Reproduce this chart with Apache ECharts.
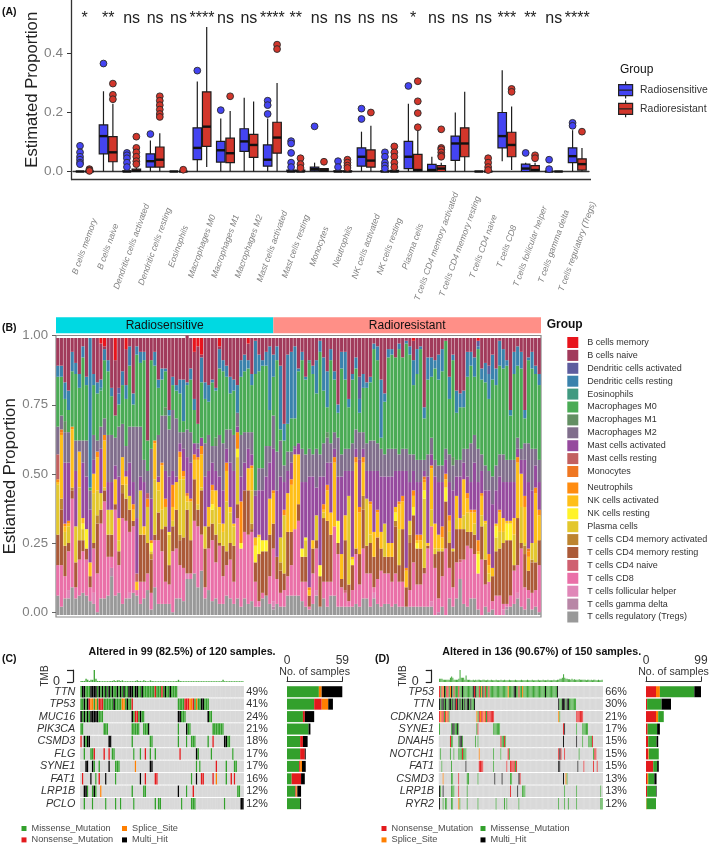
<!DOCTYPE html>
<html><head><meta charset="utf-8"><style>html,body{margin:0;padding:0;background:#fff}#c{width:709px;height:846px}</style>
<script src="https://cdn.jsdelivr.net/npm/echarts@6/dist/echarts.min.js"></script></head><body><div id="c"></div>
<script>
// ---------- Panel A ----------
const cellTypes=['B cells memory','B cells naive','Dendritic cells activated','Dendritic cells resting','Eosinophils','Macrophages M0','Macrophages M1','Macrophages M2','Mast cells activated','Mast cells resting','Monocytes','Neutrophils','NK cells activated','NK cells resting','Plasma cells','T cells CD4 memory activated','T cells CD4 memory resting','T cells CD4 naive','T cells CD8','T cells follicular helper','T cells gamma delta','T cells regulatory (Tregs)'];
const sigLabels=['*','**','ns','ns','ns','****','ns','ns','****','**','ns','ns','ns','ns','*','ns','ns','ns','***','**','ns','****'];
// min, q1, median, q3, max
const boxSensitive=[[0,0,0,0,0],[0,.06,.12,.158,.272],[0,0,0,.002,.004],[0,.015,.035,.06,.105],[0,0,0,0,0],[0,.04,.08,.148,.305],[0,.032,.072,.102,.18],[0,.068,.102,.145,.25],[0,.018,.04,.09,.18],[0,0,0,.005,.008],[0,.002,.008,.015,.03],[0,0,0,.002,.004],[0,.018,.05,.08,.135],[0,0,0,.002,.005],[0,.01,.05,.102,.23],[0,0,.005,.024,.05],[0,.038,.095,.12,.2],[0,0,0,0,0],[.035,.08,.12,.2,.343],[0,0,.01,.025,.03],[0,0,0,0,.002],[0,.03,.052,.08,.14]];
const boxResistant=[[0,0,0,0,.001],[0,.033,.065,.118,.23],[0,0,.002,.008,.012],[0,.015,.04,.083,.13],[0,0,0,0,0],[.015,.085,.152,.27,.49],[0,.03,.062,.113,.205],[0,.048,.09,.126,.237],[0,.062,.115,.167,.3],[0,0,0,.005,.008],[0,0,.004,.01,.012],[0,0,0,.002,.005],[0,.015,.037,.073,.155],[0,0,0,.004,.06],[0,.003,.005,.058,.14],[0,0,.01,.02,.03],[0,.05,.095,.148,.27],[0,0,0,0,.001],[.005,.05,.09,.133,.22],[0,.003,.005,.02,.03],[0,0,0,0,.001],[0,.005,.025,.043,.08]];
const outlierSensitive=[[.087,.065,.05,.04,.03,.025],[.366],[.063,.055,.045,.03,.015],[.127],[],[.342],[.208],[],[.24,.225,.195],[.103,.095,.063,.03,.015],[.153],[.035,.015],[.213,.178],[.065,.05,.03,.02,.01],[.29],[],[],[],[],[.063],[.04,.008],[.165,.155]];
const outlierResistant=[[.008,.004,.002],[.298,.26,.245],[.118,.08,.065,.05,.035,.025],[.255,.24,.225,.21,.195,.185],[.006],[],[.255],[],[.43,.415],[.045,.025,.012],[.033],[.04,.03,.02,.012],[.2],[.085,.065,.05,.03,.015],[.306,.238,.198,.15],[.143,.08,.075,.065,.055,.05],[],[.045,.03,.015,.005],[.28,.27],[.055,.045],[],[.135]];
const groupNames=['Radiosensitive','Radioresistant'];
const sigHeight=.5186;

// ---------- Panel B: top edges (percent) of each layer, read per bar ----------
const tregTop=[7,3,6,6,10,6,7,8,7,5,4,1,6,6,7,14,7,8,4,6,6,8,7,4,6,9,2,10,4,4,4,4,1,6,
6,5,13,13,15,10,16,6,9,5,6,4,4,7,6,4,6,3,6,4,5,3,3,6,7,4,2,4,3,3,7,7,7,7,
5,3,2,4,7,3,6,3,7,7,3,3,3,3,3,4,3,6,6,3,6,4,3,4,4,3,4,3,3,3,3,3,3,3,
3,3,3,0,0,3,0,6,3,6,13,4,3,6,6,2,0,3,1,2,0,0,0,2,3,4,6,3,2,6,2,3,1];
const pinkTop=[18,18,14,23,42,10,20,23,20,10,24,15,33,41,21,21,38,18,35,34,30,32,9,12,12,15,8,27,27,23,12,11,23,24,
18,17,8,15,34,32,29,10,24,27,19,25,14,18,20,12,35,24,30,29,30,12,5,8,7,14,24,13,8,9,14,18,31,34,
12,12,3,15,24,3,12,12,12,32,22,10,9,5,9,22,11,24,15,15,10,13,16,15,15,12,15,12,12,3,9,19,11,11,
15,24,32,17,6,14,24,17,10,19,20,20,25,24,22,15,20,11,12,5,7,7,4,4,7,16,18,24,10,9,8,9,18];
const brownTop=[29,38,25,26,45,19,27,27,24,14,26,33,38,45,29,29,40,23,44,42,38,34,9,29,29,26,20,29,37,31,32,18,32,38,
27,28,36,27,49,38,45,24,32,33,29,26,25,23,26,25,40,24,45,45,31,19,22,23,23,29,33,21,16,15,30,30,31,40,
21,21,7,24,27,14,35,34,29,32,26,13,27,11,18,24,22,38,25,26,21,28,24,21,21,21,32,18,31,10,26,36,24,24,
17,25,32,22,23,23,41,26,23,31,31,31,30,30,29,15,32,20,12,14,23,24,26,27,27,18,35,26,22,16,19,19,27];
const plasmaTop=[47,42,30,32,46,32,46,31,24,14,44,45,44,46,38,38,40,27,47,47,43,34,9,45,29,39,23,49,45,38,39,29,34,38,
49,49,39,41,49,40,46,32,32,38,39,33,30,41,37,32,57,24,45,45,45,19,22,23,23,29,33,21,28,36,30,30,31,40,
21,27,7,24,36,14,37,34,29,32,26,13,27,43,18,24,22,43,42,29,21,28,24,33,21,21,34,31,31,10,34,36,24,24,
42,25,38,24,24,24,41,30,24,35,31,36,37,30,33,15,36,33,15,14,28,30,30,27,27,29,35,39,26,16,26,26,27];
const goldTop=[48,65,32,33,67,32,59,35,31,19,51,57,44,63,38,38,49,35,57,50,43,38,12,45,32,39,26,62,48,54,39,30,39,48,
57,50,41,41,56,56,58,32,39,45,45,39,33,52,39,33,60,26,45,53,53,28,29,27,27,42,44,21,28,36,44,47,58,58,
24,28,9,27,36,18,38,45,37,55,34,22,36,43,21,55,37,55,42,40,30,37,30,33,26,26,39,40,41,16,34,43,27,27,
48,26,53,33,29,28,49,34,24,43,35,49,42,37,37,23,43,34,18,17,33,37,35,34,34,35,55,51,39,21,26,44,36];
const orangeTop=[49,67,33,34,68,32,59,35,31,19,51,59,44,65,38,38,49,35,57,50,43,40,12,45,32,42,27,63,48,55,42,30,47,48,
59,52,42,42,58,57,61,32,39,47,45,39,33,55,39,33,66,41,45,53,54,28,29,27,27,42,45,21,28,38,44,49,58,58,
24,28,10,27,36,18,40,47,37,57,34,22,36,43,21,57,39,57,42,41,30,38,30,33,26,26,39,41,43,17,34,45,29,29,
50,26,54,33,29,32,51,36,24,43,35,49,44,38,38,27,44,34,22,17,33,38,35,34,34,35,57,51,43,24,26,46,38];
const purpleTop=[58,67,55,55,68,52,58,55,50,38,56,59,60,65,48,48,54,50,57,52,55,48,35,50,48,44,42,63,50,55,52,50,52,50,
62,60,55,55,62,60,64,50,52,55,52,50,45,60,55,52,68,50,55,60,58,43,45,45,50,55,60,45,50,48,52,55,60,62,
48,48,50,50,46,50,50,55,55,60,50,50,52,52,52,60,56,60,52,52,52,52,50,50,50,50,52,52,52,52,48,52,48,48,
52,50,58,50,48,48,56,48,45,50,50,55,50,48,55,48,52,45,45,40,45,50,48,48,48,48,60,56,56,48,45,54,48];
const m2Top=[68,72,66,66,64,63,63,63,63,45,65,63,68,71,65,65,64,68,69,61,68,68,68,68,56,52,60,63,65,72,72,67,74,71,
66,66,65,66,62,62,63,62,65,61,61,65,62,67,67,65,73,65,66,66,66,45,53,53,61,61,72,59,63,54,59,59,61,62,
60,58,60,58,60,58,62,64,62,66,64,58,60,60,62,67,66,66,62,63,63,62,60,58,60,60,60,58,60,60,58,58,56,56,
56,58,64,56,54,54,60,58,54,56,56,60,60,62,65,60,58,54,52,50,54,58,58,56,56,56,64,60,62,62,60,60,56];
const m0Top=[86,86,78,74,88,87,82,93,83,46,83,80,82,92,88,79,72,76,83,78,90,76,94,91,92,63,92,90,82,85,88,72,83,81,
80,70,81,85,74,69,84,78,77,84,81,89,88,86,80,81,73,86,88,89,83,87,88,90,90,74,86,92,67,63,69,71,71,88,
92,85,92,87,80,95,81,75,92,85,73,89,85,75,85,89,73,82,82,84,96,92,64,77,93,94,93,96,93,98,94,83,87,96,
71,85,86,89,85,88,99,78,92,73,75,75,86,90,86,96,85,84,78,85,83,90,89,90,72,87,90,89,71,92,89,87,83];
const dcRestTop=[90,90,84,81,95,91,87,97,86,100,87,84,85,96,92,82,72,82,88,83,97,80,97,95,95,63,92,95,85,89,89,74,86,83,
85,85,82,89,78,69,93,84,83,85,82,96,92,90,86,85,83,92,94,92,87,99,94,92,95,97,94,97,90,69,94,95,97,89,
95,86,92,90,92,99,93,88,96,88,76,95,95,78,87,93,86,87,84,86,98,97,85,80,96,96,93,98,93,99,97,92,96,97,
75,93,93,92,94,96,99,86,94,81,80,81,95,95,93,99,89,91,90,94,89,99,96,92,74,95,97,95,74,93,95,90,87];
// small layers, [bar, percent]
const memoryBars=[[12,2],[13,3],[16,8],[19,4],[38,5],[39,3],[40,6],[45,3],[53,2],[99,1],[117,1]];
const nkRestBars=[[5,3],[7,2],[8,7],[26,3],[31,1],[43,2],[50,3],[51,2],[55,6],[56,6],[57,4],[58,4],[68,3],[69,3],[73,4],[78,8],[82,2],[94,3],[99,3],[100,2],[102,3],[108,5],[117,7],[122,4],[125,6],[126,6]];
const cd4ActBars=[[1,4],[4,2],[11,3],[18,3],[26,2],[34,2],[54,2],[62,3],[85,5],[92,2],[94,2],[98,3],[130,3],[132,1]];
const tfhBars=[[3,3],[10,4],[20,2],[36,2],[60,2],[72,2],[88,2],[104,2],[124,2],[128,2]];
const gammaBars=[[15,3],[60,1],[106,1],[125,1]];
const mastRestBars=[[0,9],[22,3],[25,3]];
const monoBars=[[1,1],[36,1],[102,1],[131,1]];
const cd4NaiveBars=[[80,1],[112,1]];
const m1Bars=[[2,4],[30,3],[44,3],[75,2],[110,3]];
const dcActBars=[[17,2],[39,1],[84,8],[117,2],[120,3]];
const eosBars=[[12,1],[70,1]];
const sampleCount=135;
const groupSpan=[60.5,74.5];
const layerColors={'B cells memory':'#e8141c','B cells naive':'#a13a5b','Dendritic cells activated':'#5d5d9e','Dendritic cells resting':'#3a82ac','Eosinophils':'#409a80','Macrophages M0':'#4aab55','Macrophages M1':'#638f63','Macrophages M2':'#806e8c','Mast cells activated':'#964a9e','Mast cells resting':'#c26060','Monocytes':'#ef7722','Neutrophils':'#ff8c10','NK cells activated':'#ffbf18','NK cells resting':'#fff32a','Plasma cells':'#e3c72d','T cells CD4 memory activated':'#bd8430','T cells CD4 memory resting':'#ab5a38','T cells CD4 naive':'#cf6070','T cells CD8':'#ea70a8','T cells follicular helper':'#e087b8','T cells gamma delta':'#b886a6','T cells regulatory (Tregs)':'#999999'};

// ---------- Panels C, D ----------
const mutTypes={M:'Missense_Mutation',N:'Nonsense_Mutation',S:'Splice_Site',H:'Multi_Hit'};
const mutColors={M:'#33a02c',N:'#e31a1c',S:'#ff7f00',H:'#000000','.':'#d9d9d9'};
const genesC=['TTN','TP53','MUC16','PIK3CA','CSMD3','FLG','SYNE1','FAT1','LRP1B','PCLO'];
const pctC=['49%','41%','24%','21%','18%','17%','17%','16%','12%','12%'];
const runsC=[
[[0,'MHHMMMHHHHMHMHMHMHMHMMHMHMHMMHHHMHHMMHMMMMMMMNMMMNMHMMHMMMM']],
[[0,'MMHMHNSSMSMNNNMMMMMMHMMMMSSMHMMN'],[59,'MMMMNNNSSNMSMMHHMMM']],
[[0,'HMHMHMHHHHHMMM'],[31,'HMNNMHMM'],[59,'HHMMM'],[77,'HMM']],
[[0,'MM'],[14,'MMM'],[31,'MMMMM'],[38,'MMMH'],[59,'M'],[64,'HMM'],[80,'MMMMMMM']],
[[0,'N'],[2,'HMHH'],[17,'HH'],[31,'M'],[42,'MM'],[59,'M'],[64,'M'],[67,'MMM'],[77,'M'],[80,'N'],[87,'HHMM']],
[[2,'M'],[6,'MMN'],[14,'N'],[17,'N'],[19,'MM'],[32,'M'],[36,'M'],[39,'N'],[42,'M'],[45,'M'],[60,'N'],[70,'HM'],[79,'M'],[92,'M']],
[[3,'HH'],[7,'HM'],[11,'M'],[17,'H'],[21,'MMM'],[33,'S'],[42,'HH'],[70,'M'],[72,'M'],[82,'N'],[88,'M'],[93,'MM']],
[[1,'N'],[6,'H'],[9,'M'],[11,'N'],[15,'H'],[21,'M'],[36,'H'],[39,'N'],[45,'NN'],[67,'M'],[70,'H'],[73,'NN'],[80,'N'],[82,'S'],[88,'M'],[91,'N'],[93,'N']],
[[2,'HHM'],[7,'MHM'],[12,'S'],[31,'M'],[38,'MM'],[59,'H'],[64,'M'],[68,'N'],[95,'MM']],
[[2,'M'],[7,'M'],[15,'M'],[21,'M'],[24,'M'],[32,'M'],[45,'M'],[47,'MM'],[61,'M'],[67,'MMM'],[87,'M'],[97,'HH']]];
const barsC={M:[34,29,17,23,14,14,13,5,9,14],N:[0,8,2,0,3,5,1,10,1,0],S:[3,7,0,0,0,0,2,0,1,0],H:[22,5,10,2,5,1,4,4,4,1]};
const tmbC=[1,1,1,3,2,1,2,2,11,3,1,1,.7,.7,.7,.7,.7,.7,1,1,1.5,1,1.5,1.5,1,1.5,.7,.7,.7,.7,.7,.7,.7,1,1.5,1,1,.7,1.5,1,.7,.7,1.5,1,.7,.7,.7,.7,.7,.7,.7,.7,.7,.7,.7,.7,.7,.7,1,2,1,.7,.7,.7,.7,.7,.7,.7,.7,.7,.7,.7,.7,.7,.7,.7,.7,.7,.7,.7,.7,.7,.7,.7,.7,.7,2,.7,.7,.7,.7,.7,.7,.7,.7,.7,.7,.7,.7];
const genesD=['TP53','TTN','CDKN2A','SYNE1','DNAH5','NOTCH1','FAT1','CSMD3','LRP1B','RYR2'];
const pctD=['66%','30%','21%','17%','15%','15%','15%','13%','13%','12%'];
const runsD=[
[[0,'NMNSHMNNMSHMNMMMNMMHMMMMMMMMHNHMMNMSHMNMMNMMMMMMMMMMMMMMMSMMMMHHMMNMMSMMMMMMMMMMMMMMMMMMHMMMMMMMMMH']],
[[0,'HMHHMHMMHHMHMHNHMHMHMHMHHMHMMH'],[99,'HMMHHHMHHMMMMMM']],
[[0,'NSNNMNSNM'],[31,'SMNSNNSNMNNNNNN'],[99,'SM'],[114,'NNNNNN']],
[[0,'M'],[10,'MHHMMHM'],[31,'MN'],[45,'MMMMMM'],[103,'NH'],[114,'M'],[119,'MMMMM']],
[[9,'NMM'],[16,'MHHM'],[30,'M'],[32,'M'],[51,'NMMNM'],[103,'H'],[114,'H'],[119,'M'],[124,'MMMN']],
[[1,'M'],[9,'M'],[12,'M'],[16,'MMMNMMM'],[33,'S'],[45,'M'],[51,'M'],[57,'NM'],[99,'NHN'],[104,'N'],[116,'M'],[128,'MNN']],
[[2,'M'],[10,'M'],[22,'H'],[33,'NNNN'],[45,'M'],[56,'N'],[59,'NNNNM'],[64,'N'],[99,'HH'],[115,'H'],[120,'N'],[128,'N'],[131,'N']],
[[3,'S'],[10,'MM'],[16,'N'],[23,'MM'],[32,'M'],[46,'H'],[52,'H'],[59,'MM'],[66,'HN'],[103,'H'],[105,'SM']],
[[0,'HM'],[3,'H'],[10,'MMM'],[16,'N'],[23,'M'],[59,'N'],[65,'H'],[69,'MMM'],[104,'M'],[114,'M'],[134,'M']],
[[0,'H'],[3,'M'],[5,'MM'],[10,'MM'],[16,'SM'],[23,'M'],[32,'M'],[47,'M'],[54,'M'],[56,'M'],[66,'M'],[99,'M'],[104,'M'],[107,'M'],[114,'M'],[134,'MM']]];
const barsD={N:[18,2,18,3,4,4,13,2,2,0],S:[7,0,4,0,0,1,0,2,0,1],M:[62,26,10,17,15,18,7,11,16,17],H:[12,17,0,5,3,0,3,4,1,0]};
const tmbD=[3,3,3,2,2,2,2,2,2,4,5,4,2,2,2,2,3,11,4,4,4,2,6,2,2,2,1.5,1.5,2,1.5,2,1.5,2,2,1.5,1.5,2,2,1.5,1.5,2,1.5,1.5,2,1.5,1.5,1.5,2,1.5,1.5,1.5,2,1.5,1.5,2,1.5,1.5,1.5,2,1.5,1.5,1.5,1.5,2,1.5,1.5,1.5,1.5,2,1.5,1.5,1.5,1.5,2,1.5,1.5,1.5,2,1.5,1.5,1.5,1.5,2,1.5,1.5,1.5,2,1.5,1.5,1.5,2,1.5,1.5,1.5,1.5,2,1.5,1.5,2,2,3,3,4,7,4,3,3,2.5,2.5,2,3,2,2.5,2,2,2,2.5,2,2,2,2,2,1.5,2,2,1.5,2,1.5,2,2,1.5,1.5,2,1.5,1.5,2];

// ---------- assembling ----------
const FONT='"Liberation Sans",Arial,sans-serif';
const BLUE='#4444f2',RED='#d2362b',INK='#222';
const pick=(pairs,i)=>{const p=pairs.find(q=>q[0]===i);return p?p[1]:0;};

// layer heights from read edges
function layerTable(){
 const tops=[tregTop,pinkTop,brownTop,plasmaTop,goldTop,orangeTop,purpleTop,m2Top,m0Top,dcRestTop];
 const t={};Object.keys(layerColors).forEach(k=>t[k]=[]);
 for(let i=0;i<sampleCount;i++){
  let c=0;const h=tops.map(a=>{const v=Math.max(a[i]-c,0);c=Math.max(c,a[i]);return v;});
  const top=Math.max(c,100);
  const mem=pick(memoryBars,i);
  const push=(k,v)=>t[k].push(Math.max(v,0)/top);
  push('T cells regulatory (Tregs)',h[0]-0);
  const gam=pick(gammaBars,i),tfh=pick(tfhBars,i),nai=pick(cd4NaiveBars,i);
  push('T cells gamma delta',gam);push('T cells follicular helper',tfh);
  push('T cells CD8',h[1]-gam-tfh-nai);push('T cells CD4 naive',nai);
  push('T cells CD4 memory resting',h[2]);
  const act=Math.min(pick(cd4ActBars,i),h[3]);
  push('T cells CD4 memory activated',act);push('Plasma cells',h[3]-act);
  const nr=Math.min(pick(nkRestBars,i),h[4]);
  push('NK cells resting',nr);push('NK cells activated',h[4]-nr);
  const mo=Math.min(pick(monoBars,i),h[5]);
  push('Neutrophils',h[5]-mo);push('Monocytes',mo);
  const mr=Math.min(pick(mastRestBars,i),h[6]);
  push('Mast cells resting',mr);push('Mast cells activated',h[6]-mr);
  push('Macrophages M2',h[7]);
  const m1=Math.min(pick(m1Bars,i),h[8]);
  push('Macrophages M1',m1);
  const eo=Math.min(pick(eosBars,i),h[8]-m1);
  push('Macrophages M0',h[8]-m1-eo);push('Eosinophils',eo);
  const da=Math.min(pick(dcActBars,i),h[9]);
  push('Dendritic cells resting',h[9]-da);push('Dendritic cells activated',da);
  push('B cells naive',top-c-mem);push('B cells memory',mem);
 }
 return t;
}
const table=layerTable();
const stackOrder=['T cells regulatory (Tregs)','T cells gamma delta','T cells follicular helper','T cells CD8','T cells CD4 naive','T cells CD4 memory resting','T cells CD4 memory activated','Plasma cells','NK cells resting','NK cells activated','Neutrophils','Monocytes','Mast cells resting','Mast cells activated','Macrophages M2','Macrophages M1','Macrophages M0','Eosinophils','Dendritic cells resting','Dendritic cells activated','B cells naive','B cells memory'];

const boxRender=dx=>(params,api)=>{
 const x=api.value(0);const P=v=>api.coord([x,v]);
 const cx=P(0)[0]+dx,w=8.5;
 const y=[1,2,3,4,5].map(k=>P(api.value(k))[1]);
 const fill=api.visual('color');
 const s={stroke:'#1c1c1c',lineWidth:1.2};
 return {type:'group',children:[
  {type:'line',shape:{x1:cx,y1:y[0],x2:cx,y2:y[4]},style:s},
  {type:'rect',shape:{x:cx-w/2,y:y[3],width:w,height:y[1]-y[3]},style:{fill,stroke:'#1c1c1c',lineWidth:1.2}},
  {type:'line',shape:{x1:cx-w/2,y1:y[2],x2:cx+w/2,y2:y[2]},style:{stroke:'#111',lineWidth:2.4}}
 ]};
};
const outlierRows=a=>a.flatMap((list,i)=>list.map(v=>[i,v]));
const BOX_ICON='path://M7 0V3M7 14V17M0 3H14V14H0ZM0 8.5H14';

function tileRows(runs,n){
 const rows=[];
 runs.forEach((gene,r)=>{
  const line=new Array(n).fill('.');
  gene.forEach(([start,s])=>{for(let k=0;k<s.length;k++)line[start+k]=s[k];});
  line.forEach((ch,c)=>rows.push([c,r,ch]));
 });
 return rows;
}
const tileRender=(rows,frac)=>(params,api)=>{
 const d=rows[params.dataIndex];
 const c=api.coord([d[0],d[1]]),s=api.size([1,1]);
 const mut=d[2]!=='.';
 const w=mut?s[0]*frac:s[0]+.4,h=s[1]*.92;
 return {type:'rect',shape:{x:c[0]-w/2,y:c[1]-h/2,width:w,height:h},style:{fill:mutColors[d[2]]}};
};

const grids=[
 {left:73,width:516,top:0,height:179.5},
 {left:56,width:485,top:317.3,height:16},
 {left:56,width:485,top:335.5,height:281.5,show:true,borderColor:'#8a8a8a',borderWidth:1.2,backgroundColor:'#fff'},
 {left:80.3,width:163.4,top:670,height:12},
 {left:80.3,width:163.4,top:685.5,height:124.4},
 {left:287,width:55.3,top:685.5,height:124.4},
 {left:439,width:163.7,top:670,height:12},
 {left:439,width:163.7,top:685.5,height:124.4},
 {left:646,width:55,top:685.5,height:124.4}
].map(g=>({...g,outerBoundsMode:'none',containLabel:false}));
const idx=n=>Array.from({length:n},(_,i)=>i);
const hidden={show:false};
const sideX=(g,max)=>({gridIndex:g,type:'value',position:'top',min:0,max,interval:max,offset:4,splitLine:hidden,axisLine:{show:true,lineStyle:{color:'#333'}},axisTick:{show:true,length:5,lineStyle:{color:'#333'}},
  axisLabel:{margin:15,fontSize:12,color:'#333',fontFamily:FONT,showMinLabel:true,showMaxLabel:true},
  name:'No. of samples',nameLocation:'middle',nameGap:4,nameMoveOverlap:false,nameTextStyle:{fontSize:10.6,color:'#333',fontFamily:FONT}});
const xAxes=[
 {gridIndex:0,type:'category',data:cellTypes,axisLine:{lineStyle:{color:'#333',width:1.3}},axisTick:{alignWithLabel:true,length:4,lineStyle:{color:'#333',width:1}},
  axisLabel:{interval:0,rotate:70,align:'center',verticalAlign:'middle',margin:67,fontSize:8.6,fontStyle:'italic',color:'#7f7f7f',fontFamily:FONT}},
 {gridIndex:1,type:'value',min:0,max:sampleCount,...hidden},
 {gridIndex:2,type:'category',data:idx(sampleCount),...hidden},
 {gridIndex:3,type:'category',data:idx(99),...hidden},
 {gridIndex:4,type:'category',data:idx(99),...hidden},
 sideX(5,59),
 {gridIndex:6,type:'category',data:idx(136),...hidden},
 {gridIndex:7,type:'category',data:idx(136),...hidden},
 sideX(8,99)
];
const tmbY=(g)=>({gridIndex:g,type:'value',min:0,max:11,offset:7.3,splitLine:hidden,
  axisLine:{show:true,lineStyle:{color:'#222',width:1.2}},
  axisTick:{show:true,length:6,lineStyle:{color:'#222',width:1.2},customValues:[0,11]},
  axisLabel:{show:true,customValues:[0],formatter:'{value}',fontSize:12.5,color:'#333',margin:13,fontFamily:FONT},
  name:'TMB',nameLocation:'middle',nameRotate:90,nameGap:23,nameMoveOverlap:false,nameTextStyle:{fontSize:10,color:'#333',fontFamily:FONT}});
const catY=(g,data,labelled,pos)=>({gridIndex:g,type:'category',data,inverse:true,position:pos||'left',
  axisLine:hidden,axisTick:hidden,
  axisLabel:labelled?{show:true,interval:0,fontSize:10.8,color:'#333',fontFamily:FONT,margin:pos==='right'?2.5:5,fontStyle:pos==='right'?'normal':'italic'}:hidden});
const yAxes=[
 {gridIndex:0,type:'value',min:-8/295,max:171.5/295,offset:2,splitLine:hidden,
  axisLine:{show:true,lineStyle:{color:'#333',width:1.3}},axisTick:{show:true,length:4,lineStyle:{color:'#333'},customValues:[0,.2,.4]},
  axisLabel:{customValues:[0,.2,.4],formatter:v=>v.toFixed(1),fontSize:13.6,color:'#7f7f7f',margin:8,fontFamily:FONT},
  name:'Estimated Proportion',nameLocation:'middle',nameRotate:90,nameGap:30,nameMoveOverlap:false,nameTextStyle:{fontSize:16.7,color:INK,fontFamily:FONT}},
 {gridIndex:1,type:'category',data:['group'],...hidden},
 {gridIndex:2,type:'value',min:-2/277,max:1+2.5/277,...hidden},
 {gridIndex:2,type:'value',min:-4.7/276.6,max:1+.2/276.6,splitLine:hidden,
  axisLine:hidden,axisTick:{show:true,length:4,lineStyle:{color:'#666'},customValues:[0,.25,.5,.75,1]},
  axisLabel:{customValues:[0,.25,.5,.75,1],formatter:v=>v.toFixed(2),fontSize:13.2,color:'#7f7f7f',margin:8,fontFamily:FONT},
  name:'Estiamted Proportion',nameLocation:'middle',nameRotate:90,nameGap:37,nameMoveOverlap:false,position:'left',nameTextStyle:{fontSize:16.7,color:INK,fontFamily:FONT}},
 tmbY(3),
 catY(4,genesC,true),
 catY(4,pctC,true,'right'),
 catY(5,genesC,false),
 tmbY(6),
 catY(7,genesD,true),
 catY(7,pctD,true,'right'),
 catY(8,genesD,false)
];
const series=[];
// A
[[boxSensitive,BLUE,-4.7,outlierSensitive],[boxResistant,RED,4.7,outlierResistant]].forEach(([box,col,dx,out],k)=>{
 series.push({type:'scatter',name:groupNames[k],xAxisIndex:0,yAxisIndex:0,symbolSize:6.8,symbolOffset:[dx,0],z:3,
  itemStyle:{color:col,borderColor:'#2a2a2a',borderWidth:.9,opacity:1},data:outlierRows(out)});
 series.push({type:'custom',name:groupNames[k],xAxisIndex:0,yAxisIndex:0,renderItem:boxRender(dx),z:2,itemStyle:{color:col},
  encode:{x:0,y:[1,2,3,4,5]},data:box.map((b,i)=>[i,...b])});
});
series.push({type:'custom',name:'sig',xAxisIndex:0,yAxisIndex:0,silent:true,clip:false,
 renderItem:(p,api)=>{const c=api.coord([api.value(0),sigHeight]);
  return {type:'text',style:{x:c[0],y:c[1],text:sigLabels[p.dataIndex],align:'center',verticalAlign:'middle',fontSize:16,fontFamily:FONT,fill:INK}};},
 encode:{x:0,y:1},data:sigLabels.map((s,i)=>[i,sigHeight])});
// B annotation
[['Radiosensitive','#00d9e2'],['Radioresistant','#ff8f87']].forEach(([n,col],k)=>series.push({type:'bar',name:n+' band',xAxisIndex:1,yAxisIndex:1,stack:'band',barWidth:'100%',
 itemStyle:{color:col},label:{show:true,position:'inside',formatter:n,fontSize:12,color:'#111',fontFamily:FONT},data:[groupSpan[k]]}));
// B stack
stackOrder.forEach(n=>series.push({type:'bar',name:n,xAxisIndex:2,yAxisIndex:2,stack:'cells',barCategoryGap:'12%',itemStyle:{color:layerColors[n]},data:table[n]}));
// C, D
const addOnco=(key,gTmb,gTile,gBar,yTmb,yTile,yBar,runs,n,tmb,bars,order,frac)=>{
 series.push({type:'bar',name:'TMB',xAxisIndex:gTmb,yAxisIndex:yTmb,barCategoryGap:'15%',itemStyle:{color:'#44a83c'},data:tmb});
 const rows=tileRows(runs,n);
 series.push({type:'custom',name:'tiles',xAxisIndex:gTile,yAxisIndex:yTile,renderItem:tileRender(rows,frac),encode:{x:0,y:1},data:rows.map(r=>[r[0],r[1]])});
 order.forEach(t=>series.push({type:'bar',name:mutTypes[t],xAxisIndex:gBar,yAxisIndex:yBar,stack:key,barWidth:11,itemStyle:{color:mutColors[t]},data:bars[t]}));
};
addOnco('mutC',3,4,5,4,5,7,runsC,99,tmbC,barsC,['M','N','S','H'],.92);
addOnco('mutD',6,7,8,8,9,11,runsD,136,tmbD,barsD,['N','S','M','H'],.78);

const bLegend=(names,top)=>({left:567.3,top,padding:0,orient:'vertical',itemWidth:11,itemHeight:11,itemGap:1.9,selectedMode:false,icon:'rect',
 textStyle:{fontSize:9,color:'#333',fontFamily:FONT,padding:[0,0,0,4]},data:names});
const mLegend=(names,left)=>({left,top:822.8,height:23,padding:0,orient:'vertical',itemWidth:5,itemHeight:5,itemGap:0,selectedMode:false,icon:'rect',
 textStyle:{fontSize:9.2,color:'#4d4d4d',fontFamily:FONT,lineHeight:11.4},data:names.map(n=>({name:n,itemStyle:{color:mutColors[Object.keys(mutTypes).find(k=>mutTypes[k]===n)]}}))});
const ttl=(text,left,top,size,bold,align)=>({text,left,top,padding:0,textAlign:align||'left',textStyle:{fontSize:size,fontWeight:bold?'bold':'normal',color:'#111',fontFamily:FONT}});

const option={animation:false,backgroundColor:'#fff',textStyle:{fontFamily:FONT},
 grid:grids,xAxis:xAxes,yAxis:yAxes,series,
 title:[ttl('(A)',2,7,10.5,true),ttl('(B)',2,322.5,10.5,true),ttl('(C)',2,653.5,10.5,true),ttl('(D)',375,653.5,10.5,true),
  ttl('Group',620,64,12,false),ttl('Group',546.7,319,12,true),
  ttl('Altered in 99 (82.5%) of 120 samples.',182,647,10.7,true,'center'),ttl('Altered in 136 (90.67%) of 150 samples.',541.7,647,10.7,true,'center')],
 legend:[
  {left:618,top:81,padding:0,orient:'vertical',itemWidth:15,itemHeight:17,itemGap:.5,selectedMode:false,textStyle:{fontSize:10.4,color:'#333',fontFamily:FONT,padding:[0,0,0,2]},
   data:[{name:groupNames[0],icon:BOX_ICON,itemStyle:{color:BLUE,borderColor:'#222',borderWidth:1.2}},{name:groupNames[1],icon:BOX_ICON,itemStyle:{color:RED,borderColor:'#222',borderWidth:1.2}}]},
  bLegend(cellTypes.slice(0,11),337),bLegend(cellTypes.slice(11),482.5),
  mLegend(['Missense_Mutation','Nonsense_Mutation'],21.5),mLegend(['Splice_Site','Multi_Hit'],122),
  mLegend(['Nonsense_Mutation','Splice_Site'],381.5),mLegend(['Missense_Mutation','Multi_Hit'],480.5)],
 graphic:[{type:'line',silent:true,shape:{x1:71,y1:179.5,x2:591,y2:179.5},style:{stroke:'#333',lineWidth:1.3}}]
};
const chart=echarts.init(document.getElementById('c'),null,{renderer:'canvas'});
chart.setOption(option);
</script></body></html>
